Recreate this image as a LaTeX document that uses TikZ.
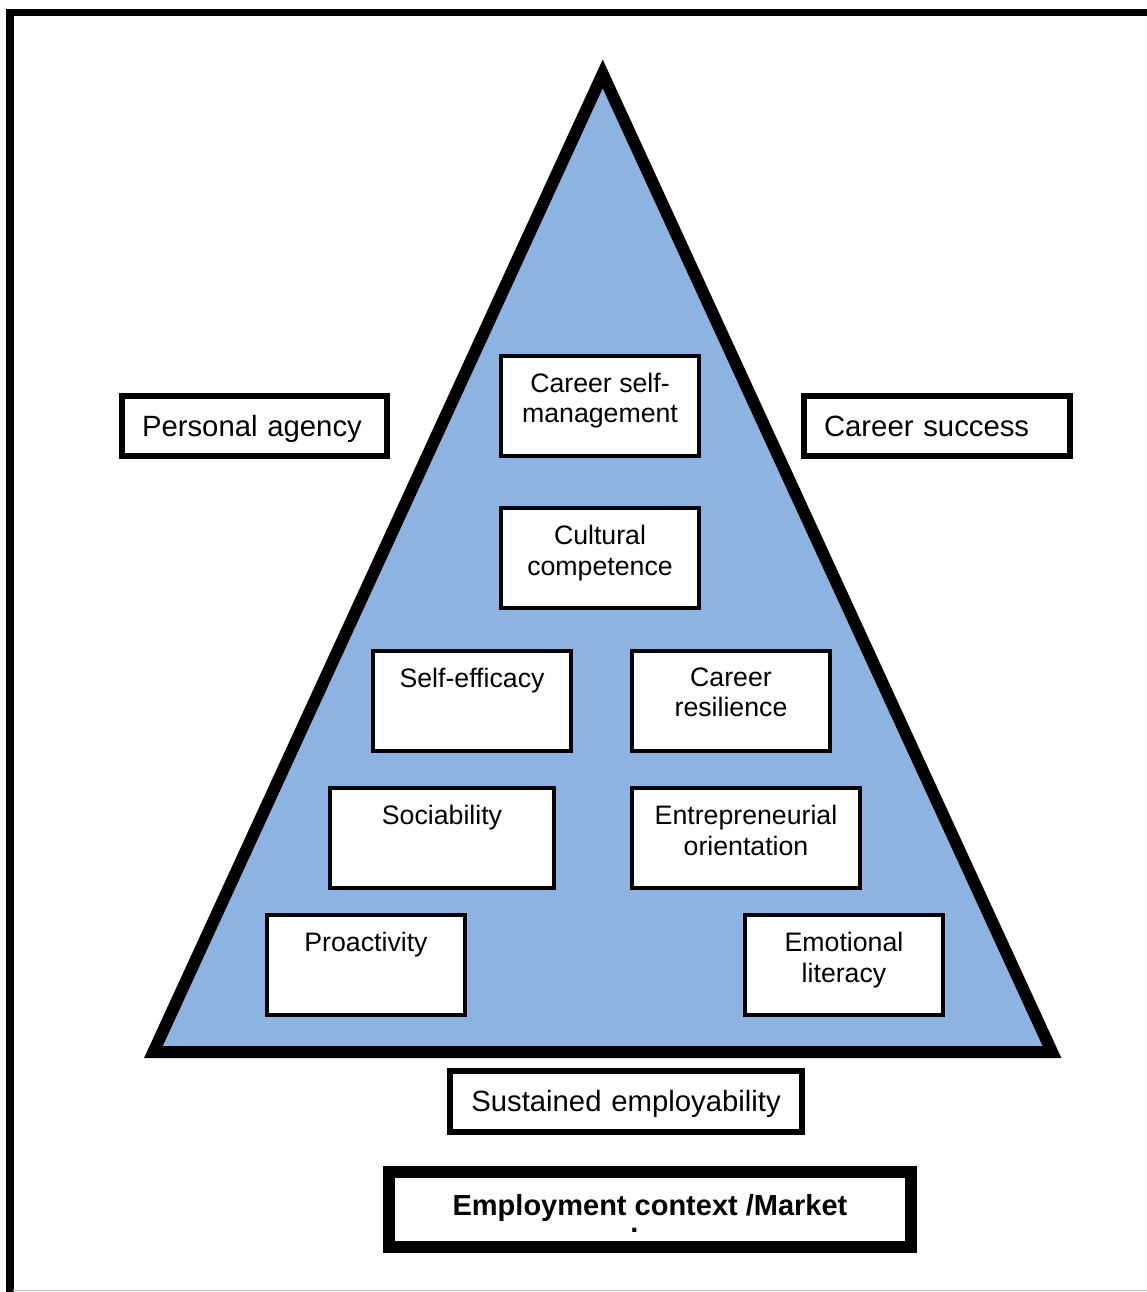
\documentclass[tikz,border=0pt]{standalone}
\usepackage{fontspec}
\setmainfont{Liberation Sans}
\definecolor{pyramid}{HTML}{8DB3E2}

\begin{document}
\begin{tikzpicture}[x=1pt, y=-1pt,
		cell/.style={draw, line width=4pt, fill=white, minimum width=198pt, minimum height=100pt, inner sep=0pt, outer sep=0pt},
		celltext/.style={anchor=north, align=center, inner sep=0pt, yshift=-17pt, font=\fontsize{26.7}{30.5}\selectfont},
		tag/.style={draw, line width=6pt, fill=white, minimum height=60pt, inner xsep=20pt, inner ysep=0pt, text height=21pt, text depth=1pt, align=left, font=\fontsize{29.3}{34}\selectfont}]
	\useasboundingbox (0,0) rectangle (1147,1292);
	\draw[line width=7.5pt] (9.75,1300) -- (9.75,12.5) -- (1160,12.5);
	\draw[gray!50, line width=1pt] (13,1290.5) -- (1147,1290.5);

	\draw[line width=12pt, fill=pyramid] (602.7,73.9) -- (1052,1052) -- (153.4,1052) -- cycle;

	\node[tag, text width=225pt] (agency) at (254.5,426) {Personal agency};
	\node[tag, text width=226pt] (success) at (937,426) {Career success};

	\node[cell, label={[celltext]north:Career self-\\management}] (selfman) at (600,405.5) {};
	\node[cell, label={[celltext]north:Cultural\\competence}] (cultural) at (600,558) {};
	\node[cell, label={[celltext]north:Self-efficacy}] (efficacy) at (472,700.5) {};
	\node[cell, label={[celltext]north:Career\\resilience}] (resilience) at (731,700.5) {};
	\node[cell, minimum width=224pt, label={[celltext]north:Sociability}] (sociab) at (442,838) {};
	\node[cell, minimum width=228pt, label={[celltext]north:Entrepreneurial\\orientation}] (entre) at (746,838) {};
	\node[cell, label={[celltext]north:Proactivity}] (proact) at (366,965) {};
	\node[cell, label={[celltext]north:Emotional\\literacy}] (emotion) at (844,965) {};

	\node[tag, text width=312pt, align=center, minimum height=61pt] (employ) at (626,1101.5) {Sustained employability};

	\node[draw, line width=12pt, minimum width=522pt, minimum height=75pt, inner sep=0pt, outer sep=0pt, label={[name=markettext, anchor=center, yshift=-3.5pt, align=center, inner sep=0pt, font=\bfseries\fontsize{29}{17}\selectfont]center:Employment context /Market\\\hspace*{-31pt}.}] (market) at (650,1209.5) {};
\end{tikzpicture}
\end{document}
